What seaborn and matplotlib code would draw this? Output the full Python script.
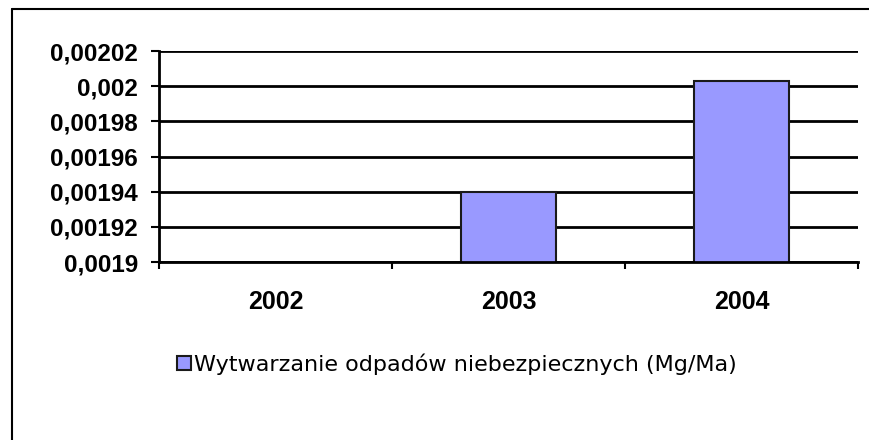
import numpy as np
import pandas as pd
import matplotlib
matplotlib.use('Agg')
import matplotlib.pyplot as plt
import seaborn as sns
from matplotlib.lines import Line2D
from matplotlib.ticker import FixedLocator, NullFormatter

# Data
years = ['2002', '2003', '2004']
values = [np.nan, 0.00194, 0.002003]
series_name = 'Wytwarzanie odpadów niebezpiecznych (Mg/Ma)'
y_ticks = [0.0019, 0.00192, 0.00194, 0.00196, 0.00198, 0.002, 0.00202]
y_tick_labels = ['0,0019', '0,00192', '0,00194', '0,00196', '0,00198', '0,002', '0,00202']

df = pd.DataFrame({'rok': years, 'wartosc': values, 'seria': series_name})

sns.set_style('white')
plt.rcParams['font.family'] = ['Liberation Sans', 'DejaVu Sans']
plt.rcParams['text.color'] = 'black'
plt.rcParams['xtick.color'] = 'black'
plt.rcParams['ytick.color'] = 'black'

fig = plt.figure(figsize=(8.7, 4.4), dpi=100)
ax = fig.add_axes([159 / 870, 1 - 262 / 440, (858 - 159) / 870, (262 - 51) / 440])

sns.barplot(data=df, x='rok', y='wartosc', hue='seria', order=years, palette=['#9999ff'],
            width=0.41, edgecolor='#1a1a1a', linewidth=1.5, saturation=1, ax=ax, legend=True)

ax.set_xlim(-0.5, 2.5)
ax.set_ylim(y_ticks[0], y_ticks[-1])
ax.set_yticks(y_ticks)
ax.set_yticklabels(y_tick_labels, fontsize=17.5, fontweight='bold', color='black')
ax.yaxis.grid(True, color='black', linewidth=2)
ax.set_axisbelow(True)
ax.tick_params(axis='y', direction='out', length=6, width=1.5, pad=9, color='black', left=True)

# category labels on minor ticks, boundary ticks on major
ax.xaxis.set_major_locator(FixedLocator([-0.5, 0.5, 1.5, 2.5]))
ax.xaxis.set_major_formatter(NullFormatter())
ax.xaxis.set_minor_locator(FixedLocator([0, 1, 2]))
ax.set_xticklabels(years, minor=True, fontsize=18, fontweight='bold', color='black')
ax.tick_params(axis='x', which='major', direction='out', length=5, width=1.5, color='black', bottom=True)
ax.tick_params(axis='x', which='minor', length=0, pad=20)

ax.set_xlabel('')
ax.set_ylabel('')
for side in ['top', 'right']:
    ax.spines[side].set_visible(False)
for side in ['left', 'bottom']:
    ax.spines[side].set_color('black')
    ax.spines[side].set_linewidth(2)

handles, labels = ax.get_legend_handles_labels()
leg = ax.legend(handles, labels, loc='center left', bbox_to_anchor=(177 / 870, 1 - 364 / 440),
                bbox_transform=fig.transFigure, frameon=False, prop={'family': 'DejaVu Sans', 'size': 16},
                handlelength=0.65, handleheight=0.65, handletextpad=0.1, borderpad=0, borderaxespad=0)
for t in leg.get_texts():
    t.set_color('black')

# outer chart frame (left and top edges)
fig.add_artist(Line2D([12 / 870, 12 / 870], [0, 1 - 9 / 440], transform=fig.transFigure, color='black', lw=1.5))
fig.add_artist(Line2D([12 / 870, 1], [1 - 9 / 440, 1 - 9 / 440], transform=fig.transFigure, color='black', lw=1.5))

plt.savefig('out.png', dpi=100)
